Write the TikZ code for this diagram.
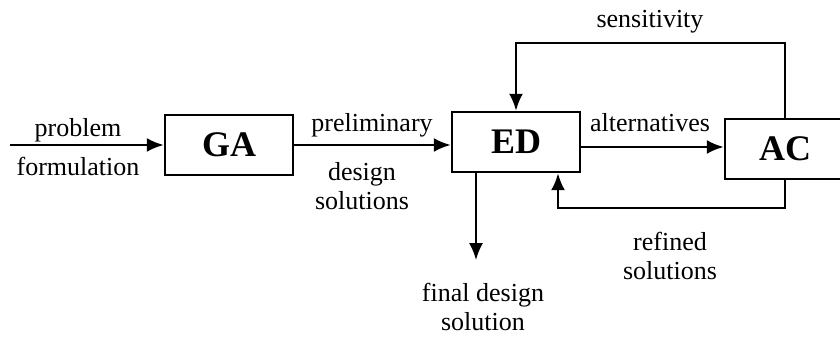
\documentclass[tikz,border=0pt]{standalone}
\usepackage{fontspec}
\setmainfont{Liberation Serif}
\usetikzlibrary{arrows.meta}
\tikzset{>={Latex[width=7pt,length=8.5pt]}}
\tikzset{
  blk/.style={draw, line width=1.2pt, minimum width=64pt, minimum height=30pt,
    inner sep=0pt, font=\fontsize{18}{20}\selectfont\bfseries},
  lbl/.style={inner sep=0pt, align=center, font=\fontsize{13}{14.5}\selectfont},
}

\begin{document}
\begin{tikzpicture}[x=0.5pt, y=-0.5pt, line width=1.25pt]
  \clip (0,0) rectangle (840,340);

  %% blocks
  \node[blk] (ga) at (229,145) {GA};
  \node[blk] (ed) at (516,142) {ED};
  \node[blk, minimum width=60pt] (ac) at (785,149) {AC};

  %% labels
  \node[lbl] (prob) at (78,130) {problem};
  \node[lbl] (form) at (78,166) {formulation};
  \node[lbl] (prel) at (372,125) {preliminary};
  \node[lbl] (dsol) at (362,186) {design\\solutions};
  \node[lbl] (alt)  at (650,123) {alternatives};
  \node[lbl] (sens) at (650,22)  {sensitivity};
  \node[lbl] (refs) at (670,256) {refined\\solutions};
  \node[lbl] (fin)  at (483,307) {final design\\solution};

  \coordinate (in) at (10,145);

  \draw[->] (in) -- (ga.west); % problem formulation
  \draw[->] (ga.east) -- (ga.east -| ed.west); % GA -> ED
  \draw[->] ([yshift=-2.5pt]ed.east) -- ([yshift=-2.5pt]ed.east -| ac.west); % ED -> AC
  \draw[->] (ac.north) -- ++(0,-75) -| (ed.north); % sensitivity loop
  \draw[->] (ac.south) -- ++(0,28) -| ([xshift=21pt]ed.south); % refined loop
  \draw[->] ([xshift=-20pt]ed.south) -- ++(0,87); % final solution

\end{tikzpicture}
\end{document}
